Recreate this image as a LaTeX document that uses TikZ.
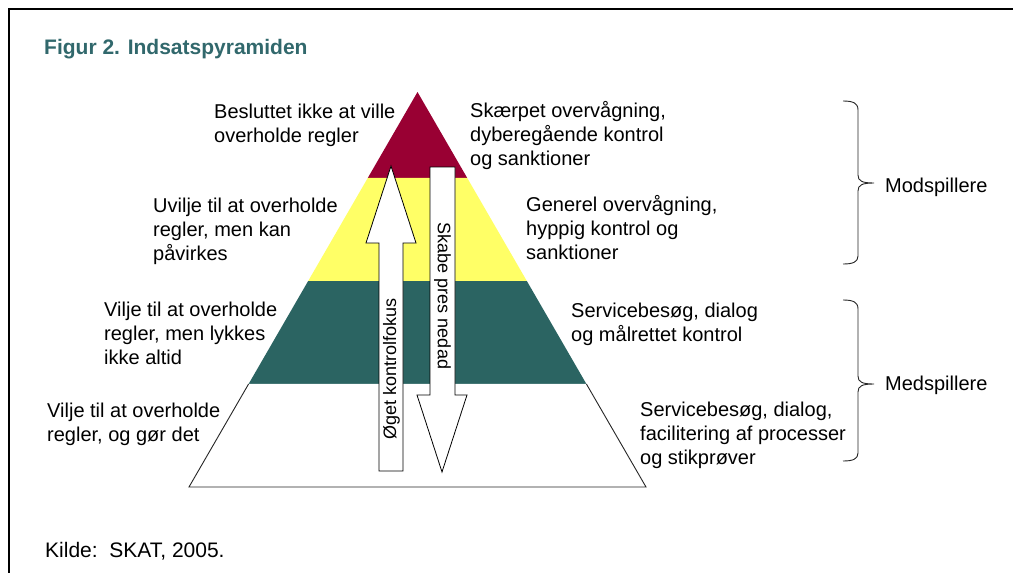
\documentclass[tikz,border=0pt]{standalone}
\usepackage{fontspec}
\setmainfont{Liberation Sans}
\usetikzlibrary{calc}

\definecolor{topred}{HTML}{990033}
\definecolor{midyellow}{HTML}{FFFF66}
\definecolor{bandgreen}{HTML}{2B6462}
\definecolor{titleteal}{HTML}{31686C}

% left-aligned block of lines whose baseline is the first line's baseline
\newcommand{\txtlines}[1]{\begin{tabular}[t]{@{}l@{}}#1\end{tabular}}

\tikzset{
  lbl/.style={anchor=base west, inner sep=0pt, font=\fontsize{20}{24}\selectfont},
  arrowbox/.style={draw=black, fill=white, line width=0.8pt, line join=miter},
  arrowtext/.style={inner sep=0pt, font=\fontsize{18}{22}\selectfont},
  bracepath/.style={draw=black!85, line width=0.9pt},
  outline/.style={draw=black!85, line width=0.9pt}
}

\begin{document}
\begin{tikzpicture}[x=1pt,y=-1pt]
\useasboundingbox (0,0) rectangle (1013,573);
\fill[white] (0,0) rectangle (1013,573);

% frame
\draw[line width=2.7pt] (9,573) -- (9,9) -- (1013,9);

% title
\node[anchor=base west, inner sep=0pt, text=titleteal,
      font=\fontsize{21}{25}\selectfont\bfseries] (title) at (44,54) {Figur 2. Indsatspyramiden};

% pyramid corners and band limits
\coordinate (apex) at (417.5,92);
\coordinate (bl) at (189,487);
\coordinate (br) at (646,487);
\coordinate (rl) at ($(apex)!0.2177!(bl)$);
\coordinate (rr) at ($(apex)!0.2177!(br)$);
\coordinate (yl) at ($(apex)!0.4785!(bl)$);
\coordinate (yr) at ($(apex)!0.4785!(br)$);
\coordinate (gl) at ($(apex)!0.7392!(bl)$);
\coordinate (gr) at ($(apex)!0.7392!(br)$);

\fill[topred] (apex) -- (rl) -- (rr) -- cycle;
\fill[midyellow] (rl) -- (yl) -- (yr) -- (rr) -- cycle;
\fill[bandgreen] (yl) -- (gl) -- (gr) -- (yr) -- cycle;
\fill[white] (gl) -- (bl) -- (br) -- (gr) -- cycle;
\draw[outline] (gl) -- (bl) -- (br) -- (gr);

% up arrow
\draw[arrowbox] (379,471) -- (379,243) -- (366,243) -- (391,166) -- (416,243)
  -- (403,243) -- (403,471) -- cycle;
\node[arrowtext, rotate=90] (up) at (391.5,369) {Øget kontrolfokus};

% down arrow
\draw[arrowbox] (430,167) -- (455,167) -- (455,395) -- (467,395) -- (442,472)
  -- (417,395) -- (430,395) -- cycle;
\node[arrowtext, rotate=-90] (down) at (442.5,296) {Skabe pres nedad};

% descriptions, left side
\node[lbl] (l1) at (214,118) {\txtlines{Besluttet ikke at ville\\overholde regler}};
\node[lbl] (l2) at (153,212) {\txtlines{Uvilje til at overholde\\regler, men kan\\påvirkes}};
\node[lbl] (l3) at (104,316) {\txtlines{Vilje til at overholde\\regler, men lykkes\\ikke altid}};
\node[lbl] (l4) at (47,417) {\txtlines{Vilje til at overholde\\regler, og gør det}};

% descriptions, right side
\node[lbl] (r1) at (470,117) {\txtlines{Skærpet overvågning,\\dyberegående kontrol\\og sanktioner}};
\node[lbl] (r2) at (526,211) {\txtlines{Generel overvågning,\\hyppig kontrol og\\sanktioner}};
\node[lbl] (r3) at (571,317) {\txtlines{Servicebesøg, dialog\\og målrettet kontrol}};
\node[lbl] (r4) at (640,416) {\txtlines{Servicebesøg, dialog,\\facilitering af processer\\og stikprøver}};

% braces
\draw[bracepath] (843,101) .. controls (853,101) and (858,103) .. (858,110)
  -- (858,175) .. controls (858,181) and (862,183) .. (874,183)
  .. controls (862,183) and (858,185) .. (858,191)
  -- (858,256) .. controls (858,262) and (853,264) .. (843,264);
\draw[bracepath] (843,300) .. controls (853,300) and (858,302) .. (858,309)
  -- (858,376) .. controls (858,382) and (862,384) .. (874,384)
  .. controls (862,384) and (858,386) .. (858,392)
  -- (858,453) .. controls (858,459) and (853,461) .. (843,461);

\node[lbl] (mod) at (885,192) {Modspillere};
\node[lbl] (med) at (885,390) {Medspillere};

% source
\node[lbl, font=\fontsize{21}{25}\selectfont] (src) at (45,557) {Kilde:\ \ SKAT, 2005.};
\end{tikzpicture}
\end{document}
